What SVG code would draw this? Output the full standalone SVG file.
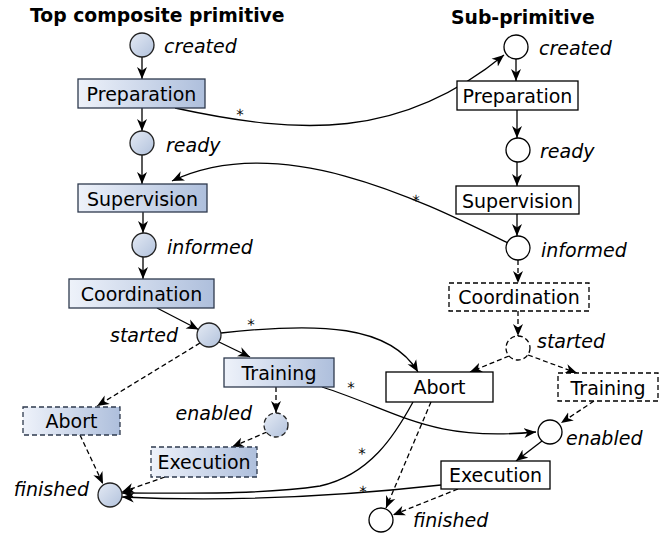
<svg xmlns="http://www.w3.org/2000/svg" width="662" height="536" viewBox="0 0 662 536">
<defs>
<linearGradient id="boxg" x1="0" y1="0" x2="1" y2="0">
<stop offset="0" stop-color="#eef2fa"/>
<stop offset="1" stop-color="#aebfdc"/>
</linearGradient>
<linearGradient id="circg" x1="0" y1="0" x2="1" y2="1">
<stop offset="0" stop-color="#e4eaf4"/>
<stop offset="1" stop-color="#b2c2dc"/>
</linearGradient>
<marker id="ah" markerUnits="userSpaceOnUse" markerWidth="13" markerHeight="11" refX="12" refY="5.5" orient="auto" viewBox="0 0 13 11">
<path d="M0,0.5 L12,5.5 L0,10.5 L3.5,5.5 Z" fill="#000" stroke="none"/>
</marker>
<style>
.t{font-family:"DejaVu Sans","Liberation Sans",sans-serif;font-size:19px;fill:#000}
.c{text-anchor:middle}
.i{font-family:"DejaVu Sans","Liberation Sans",sans-serif;font-size:19px;font-style:italic;fill:#000}
.h{font-family:"DejaVu Sans","Liberation Sans",sans-serif;font-size:18.8px;font-weight:bold;fill:#000}
.s{font-family:"DejaVu Sans","Liberation Sans",sans-serif;font-size:15px;fill:#000;text-anchor:middle;text-rendering:geometricPrecision}
.bl{fill:url(#boxg);stroke:#2e3a4e;stroke-width:1.3}
.br{fill:#fff;stroke:#000;stroke-width:1.3}
.cl{fill:url(#circg);stroke:#222;stroke-width:1.3}
.cr{fill:#fff;stroke:#000;stroke-width:1.3}
.d{stroke-dasharray:5,3}
.e{fill:none;stroke:#000;stroke-width:1.3;marker-end:url(#ah)}
.ed{fill:none;stroke:#000;stroke-width:1.3;stroke-dasharray:5,3;marker-end:url(#ah)}
</style>
</defs>
<rect width="662" height="536" fill="#fff"/>
<text class="h" x="30" y="22">Top composite primitive</text>
<text class="h" x="451" y="24">Sub-primitive</text>

<g id="connectors">
<path class="e" d="M142,57 L142,79"/>
<path class="e" d="M142,108 L142,131"/>
<path class="e" d="M142,155 L142,184"/>
<path class="e" d="M143,212 L143,233"/>
<path class="e" d="M143,257 L143,279"/>
<path class="e" d="M157,308 L198.5,329.5"/>
<path class="e" d="M219,342 L250,357"/>
<path class="ed" d="M200,343 L97,406"/>
<path class="ed" d="M276,387 L276,413"/>
<path class="ed" d="M267,432 L232,447"/>
<path class="ed" d="M80,435 L103,484"/>
<path class="ed" d="M165,477 L122,492"/>
<path class="e" d="M516,59 L516,81"/>
<path class="e" d="M517,110 L517,138"/>
<path class="e" d="M517,162 L517,186"/>
<path class="e" d="M517,214 L517,236"/>
<path class="ed" d="M518,260 L518,283"/>
<path class="ed" d="M518,311 L518,336"/>
<path class="ed" d="M509,356 L470,372"/>
<path class="ed" d="M528,355 L577,373"/>
<path class="ed" d="M594,401 L561,423"/>
<path class="e" d="M542,441 L516,461"/>
<path class="ed" d="M458,489 L393,515"/>
<path class="ed" d="M431,402 L386,508"/>
<path class="e" d="M175,108 C300,135 400,140 504,55"/>
<path class="e" d="M508,243 C420,200 280,130 172,181"/>
<path class="e" d="M221,333 C320,322 390,325 418,372"/>
<path class="e" d="M322,387 C400,412 430,442 536,432"/>
<path class="e" d="M413,402 C395,435 370,475 320,486 C260,495 180,493 122,493"/>
<path class="e" d="M441,485 C360,494 250,503 122,497"/>
<text class="s" x="240" y="120">*</text>
<text class="s" x="416" y="206">*</text>
<text class="s" x="251" y="330">*</text>
<text class="s" x="351" y="393">*</text>
<text class="s" x="362" y="459">*</text>
<text class="s" x="363" y="497">*</text>
</g>

<g id="l-created"><circle class="cl" cx="142" cy="45" r="12"/><text class="i" x="164" y="53">created</text></g>
<g id="l-preparation"><rect class="bl" x="78" y="79" width="127" height="29"/><text class="t c" x="141.5" y="101">Preparation</text></g>
<g id="l-ready"><circle class="cl" cx="142" cy="143" r="12"/><text class="i" x="166" y="152">ready</text></g>
<g id="l-supervision"><rect class="bl" x="78" y="184" width="129" height="28"/><text class="t c" x="142.5" y="206">Supervision</text></g>
<g id="l-informed"><circle class="cl" cx="144" cy="245" r="12"/><text class="i" x="167" y="254">informed</text></g>
<g id="l-coordination"><rect class="bl" x="69" y="279" width="145" height="29"/><text class="t c" x="141.5" y="301">Coordination</text></g>
<g id="l-started"><circle class="cl" cx="209" cy="335" r="12"/><text class="i" x="178" y="342" text-anchor="end">started</text></g>
<g id="l-training"><rect class="bl" x="224" y="358" width="110" height="29"/><text class="t c" x="279" y="380">Training</text></g>
<g id="l-abort"><rect class="bl d" x="23" y="407" width="97" height="28"/><text class="t c" x="71.5" y="428">Abort</text></g>
<g id="l-enabled"><circle class="cl d" cx="276" cy="425" r="12"/><text class="i" x="252" y="420" text-anchor="end">enabled</text></g>
<g id="l-execution"><rect class="bl d" x="151" y="447" width="106" height="30"/><text class="t c" x="204" y="469">Execution</text></g>
<g id="l-finished"><circle class="cl" cx="110" cy="495" r="12"/><text class="i" x="89" y="496" text-anchor="end">finished</text></g>

<g id="r-created"><circle class="cr" cx="516" cy="47" r="12"/><text class="i" x="539" y="55">created</text></g>
<g id="r-preparation"><rect class="br" x="457" y="81" width="121" height="29"/><text class="t c" x="517.5" y="103">Preparation</text></g>
<g id="r-ready"><circle class="cr" cx="518" cy="150" r="12"/><text class="i" x="540" y="158">ready</text></g>
<g id="r-supervision"><rect class="br" x="456" y="186" width="123" height="28"/><text class="t c" x="517.5" y="208">Supervision</text></g>
<g id="r-informed"><circle class="cr" cx="518" cy="248" r="12"/><text class="i" x="541" y="257">informed</text></g>
<g id="r-coordination"><rect class="br d" x="449" y="283" width="140" height="28"/><text class="t c" x="519" y="304">Coordination</text></g>
<g id="r-started"><circle class="cr d" cx="518" cy="348" r="12"/><text class="i" x="537" y="348">started</text></g>
<g id="r-abort"><rect class="br" x="386" y="372" width="107" height="30"/><text class="t c" x="439.5" y="394">Abort</text></g>
<g id="r-training"><rect class="br d" x="558" y="373" width="100" height="28"/><text class="t c" x="608" y="395">Training</text></g>
<g id="r-enabled"><circle class="cr" cx="550" cy="432" r="12"/><text class="i" x="566" y="445">enabled</text></g>
<g id="r-execution"><rect class="br" x="441" y="461" width="109" height="28"/><text class="t c" x="495.5" y="482">Execution</text></g>
<g id="r-finished"><circle class="cr" cx="381" cy="520" r="12"/><text class="i" x="413" y="527">finished</text></g>
</svg>
